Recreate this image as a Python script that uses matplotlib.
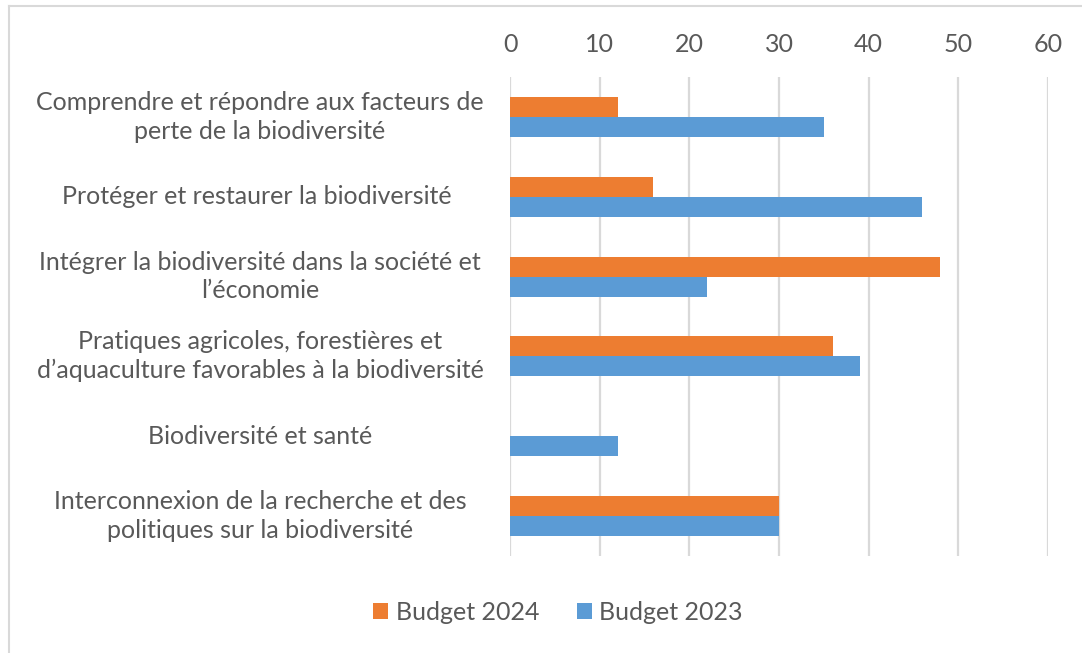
import numpy as np
import matplotlib.pyplot as plt
from matplotlib.lines import Line2D

plt.rcParams['font.family'] = ['Lato', 'DejaVu Sans']

categories = [
    "Comprendre et répondre aux facteurs de\nperte de la biodiversité",
    "Protéger et restaurer la biodiversité ",
    "Intégrer la biodiversité dans la société et\nl\u2019économie",
    "Pratiques agricoles, forestières et\nd\u2019aquaculture favorables à la biodiversité",
    "Biodiversité et santé",
    "Interconnexion de la recherche et des\npolitiques sur la biodiversité",
]
budget_2024 = [12, 16, 48, 36, 0, 30]
budget_2023 = [35, 46, 22, 39, 12, 30]
xticks = [0, 10, 20, 30, 40, 50, 60]

orange = '#ED7D31'
blue = '#5B9BD5'
grey = '#595959'
fs = 18

fig = plt.figure(figsize=(10.82, 6.53), dpi=100)
ax = fig.add_axes([510 / 1082, 1 - 556 / 653, 538 / 1082, 479 / 653])

y = np.arange(len(categories))
h = 0.25
ax.barh(y - h / 2, budget_2024, height=h, color=orange, label='Budget 2024', zorder=3)
ax.barh(y + h / 2, budget_2023, height=h, color=blue, label='Budget 2023', zorder=3)

ax.set_ylim(len(categories) - 0.5, -0.5)
ax.set_xlim(0, 60)
ax.set_xticks(xticks)
ax.xaxis.tick_top()
ax.tick_params(axis='x', length=0, pad=15, labelsize=fs, labelcolor=grey)
ax.set_yticks([])
ax.grid(axis='x', color='#D9D9D9', linewidth=1.6, zorder=0)
for s in ax.spines.values():
    s.set_visible(False)

# category labels, centred in the left margin
for yi, txt in zip(y, categories):
    yy = ax.transData.transform((0, yi))[1] / fig.bbox.height
    fig.text(260 / 1082, yy, txt, ha='center', va='center', fontsize=fs,
             color=grey, multialignment='center', linespacing=1.3)

ax.legend(loc='center', bbox_to_anchor=(558 / 1082, 1 - 612 / 653), bbox_transform=fig.transFigure,
          ncol=2, frameon=False, fontsize=fs, labelcolor=grey, handlelength=0.6, handleheight=0.6,
          handletextpad=0.3, columnspacing=1.5)

fig.add_artist(Line2D([9 / 1082, 9 / 1082], [0, 1 - 6 / 653], transform=fig.transFigure, color='#D9D9D9', lw=1.5))
fig.add_artist(Line2D([9 / 1082, 1], [1 - 6 / 653, 1 - 6 / 653], transform=fig.transFigure, color='#D9D9D9', lw=1.5))

fig.savefig('out.png', dpi=100)
